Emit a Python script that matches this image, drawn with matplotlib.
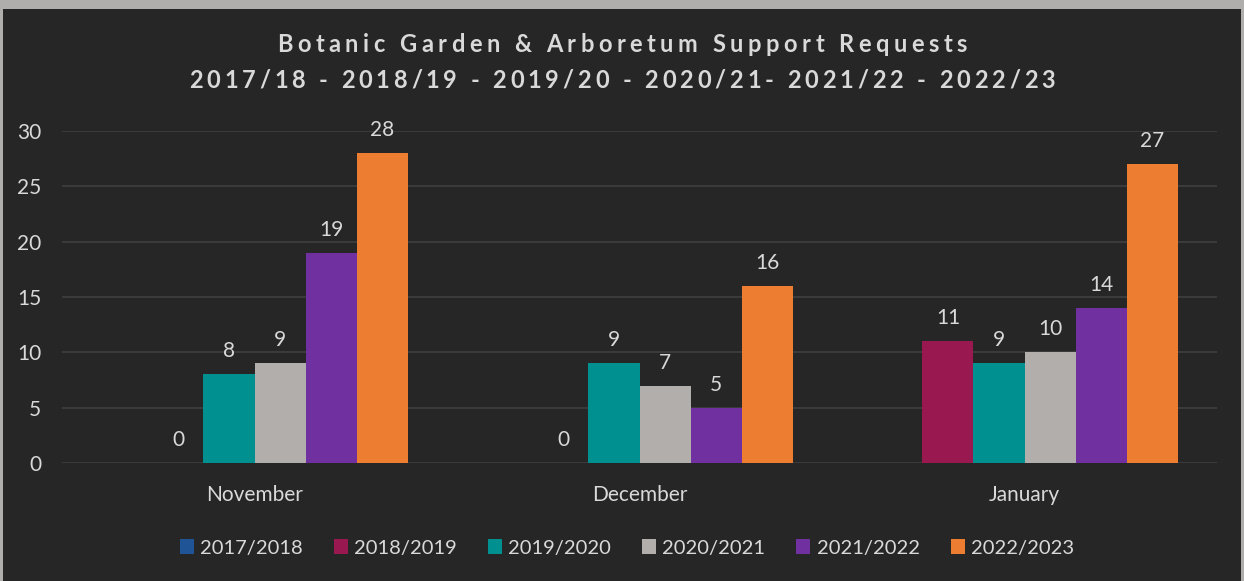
import numpy as np
import matplotlib.pyplot as plt
from matplotlib.patches import Rectangle

plt.rcParams['font.family'] = ['Lato', 'DejaVu Sans']

# data
months = ['November', 'December', 'January']
years = ['2017/2018', '2018/2019', '2019/2020', '2020/2021', '2021/2022', '2022/2023']
v_1718 = [np.nan, np.nan, np.nan]
v_1819 = [0, 0, 11]
v_1920 = [8, 9, 9]
v_2021 = [9, 7, 10]
v_2122 = [19, 5, 14]
v_2223 = [28, 16, 27]
series = [v_1718, v_1819, v_1920, v_2021, v_2122, v_2223]
colors = ['#1f5597', '#9a1850', '#00908f', '#b1aeac', '#7030a0', '#ed7d31']
title1 = 'Botanic Garden & Arboretum Support Requests'
title2 = '2017/18 - 2018/19 - 2019/20 - 2020/21- 2021/22 - 2022/23'

bg = '#262626'
txt = '#d9d9d9'

fig = plt.figure(figsize=(12.44, 5.81), dpi=100, facecolor='#b0aead')
fig.patches.append(Rectangle((3/1244, 0), 1238/1244, 1 - 9/581, transform=fig.transFigure,
                             facecolor=bg, edgecolor='none', zorder=-5))

ax = fig.add_axes([62/1244, 1 - 463/581, (1217 - 62)/1244, (463 - 131)/581])
ax.set_facecolor(bg)

x = np.arange(len(months))
w = 0.1325
for i, (vals, c, lab) in enumerate(zip(series, colors, years)):
    pos = x + (i - 2.5) * w
    heights = np.nan_to_num(vals)
    ax.bar(pos, heights, width=w, color=c, label=lab, zorder=3)
    for p, v in zip(pos, vals):
        if not np.isnan(v):
            ax.annotate(f'{int(v)}', (p, v), xytext=(0, 17), textcoords='offset pixels',
                        ha='center', va='baseline', color=txt, fontsize=15)

ax.set_xlim(-0.5, 2.5)
ax.set_ylim(0, 30)
ax.set_yticks(range(0, 31, 5))
ax.set_xticks(x)
ax.set_xticklabels(months)
ax.grid(axis='y', color='#404040', linewidth=1.2, zorder=0)
ax.tick_params(length=0, colors=txt, labelsize=15)
ax.tick_params(axis='y', pad=15)
ax.tick_params(axis='x', pad=16)
for s in ax.spines.values():
    s.set_visible(False)

leg = ax.legend(loc='center', bbox_to_anchor=(0.489, (463 - 548) / 332), ncol=6, frameon=False,
                fontsize=14.5, labelcolor=txt, handlelength=0.7, handleheight=0.7,
                handletextpad=0.3, columnspacing=1.55)


# title with letter spacing: place characters one by one
renderer = fig.canvas.get_renderer()


def text_width(s, **kw):
    t = fig.text(0, 0, s + '|', **kw)
    bar = fig.text(0, 0, '|', **kw)
    wd = t.get_window_extent(renderer).width - bar.get_window_extent(renderer).width
    t.remove()
    bar.remove()
    return wd


def tracked_text(s, yc, track, **kw):
    total = text_width(s, **kw) + track * (len(s) - 1)
    x0 = 622 - total / 2
    for i, ch in enumerate(s):
        if ch == ' ':
            continue
        xp = x0 + text_width(s[:i], **kw) + track * i
        fig.text(xp / 1244, 1 - yc / 581, ch, ha='left', va='center', **kw)


style = dict(color=txt, fontsize=17, fontweight='bold')
tracked_text(title1, 45, 4.5, **style)
tracked_text(title2, 80, 3.8, **style)

fig.savefig('out.png', dpi=100, facecolor=fig.get_facecolor())
